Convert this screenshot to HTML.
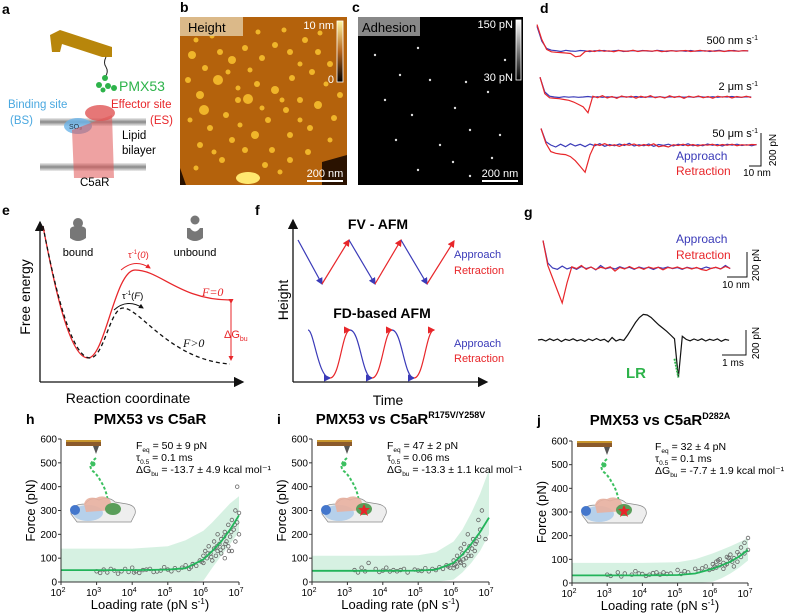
<!DOCTYPE html>
<html><head><meta charset="utf-8"><style>
html,body{margin:0;padding:0;background:#fff}
svg{display:block;font-family:"Liberation Sans",Arial,sans-serif}
</style></head><body>
<svg id="fig" width="786" height="615" viewBox="0 0 786 615" xmlns="http://www.w3.org/2000/svg">
<defs>
<marker id="ab" markerWidth="6" markerHeight="6" refX="5" refY="3" orient="auto"><path d="M0,0 L6,3 L0,6 z" fill="#3a3ab8"/></marker>
<marker id="ar" markerWidth="6" markerHeight="6" refX="5" refY="3" orient="auto"><path d="M0,0 L6,3 L0,6 z" fill="#e8262a"/></marker>
<marker id="ak" markerWidth="8" markerHeight="8" refX="7" refY="4" orient="auto"><path d="M0,0 L8,4 L0,8 z" fill="#111"/></marker>
<marker id="ak2" markerWidth="5" markerHeight="5" refX="4" refY="2.5" orient="auto"><path d="M0,0 L5,2.5 L0,5 z" fill="#111"/></marker>
<marker id="ar2" markerWidth="5" markerHeight="5" refX="4" refY="2.5" orient="auto"><path d="M0,0 L5,2.5 L0,5 z" fill="#e8262a"/></marker>
<linearGradient id="cb1" x1="0" y1="1" x2="0" y2="0"><stop offset="0" stop-color="#000"/><stop offset="0.5" stop-color="#b5651d"/><stop offset="1" stop-color="#fff6a0"/></linearGradient>
<linearGradient id="cb2" x1="0" y1="1" x2="0" y2="0"><stop offset="0" stop-color="#000"/><stop offset="1" stop-color="#fff"/></linearGradient>
<linearGradient id="bil" x1="0" y1="0" x2="0" y2="1"><stop offset="0" stop-color="#eee"/><stop offset="0.5" stop-color="#888"/><stop offset="1" stop-color="#eee"/></linearGradient>
</defs>

<!-- Panel a -->
<g>
<text x="2" y="14" font-size="14" font-weight="bold">a</text>
<polygon points="50,35 60,30 112,47 112,57 102,57 62,44 60,52 52,52" fill="#b8860b"/>
<path d="M106,57 q-3,6 0,10 q3,5 -1,10" stroke="#222" fill="none"/>
<g fill="#2db34a"><circle cx="105" cy="78" r="3"/><circle cx="99" cy="85" r="3"/><circle cx="108" cy="86" r="3"/><circle cx="114" cy="88" r="3"/><circle cx="103" cy="90" r="2.5"/></g>
<text x="119" y="91" font-size="14" fill="#2db34a">PMX53</text>
<text x="8" y="108" font-size="11.5" fill="#4aa8e0">Binding site</text>
<text x="10" y="124" font-size="11.5" fill="#4aa8e0">(BS)</text>
<text x="111" y="108" font-size="11.5" fill="#e8262a">Effector site</text>
<text x="150" y="124" font-size="11.5" fill="#e8262a">(ES)</text>
<rect x="40" y="118" width="106" height="8" fill="url(#bil)"/>
<rect x="40" y="163" width="106" height="8" fill="url(#bil)"/>
<ellipse cx="78" cy="126" rx="14" ry="8" fill="#6cb4e8" opacity="0.8"/>
<text x="69" y="129" font-size="7" fill="#234">SO₃</text>
<path d="M72,130 L112,115 L114,178 L74,178 Z" fill="#e05555" opacity="0.55"/>
<ellipse cx="100" cy="113" rx="15" ry="8" fill="#e05555" opacity="0.8"/>
<text x="122" y="139" font-size="11.5">Lipid</text>
<text x="122" y="154" font-size="11.5">bilayer</text>
<text x="80" y="186" font-size="11.5">C5aR</text>
</g>

<!-- Panel b -->
<g>
<text x="180" y="12" font-size="14" font-weight="bold">b</text>
<rect x="180" y="17" width="167" height="168" fill="#b4620c"/>
<path d="M322,185 L322,162 L347,155 L347,185 Z" fill="#2a1200"/>
<path d="M180,185 L180,168 L186,185 Z" fill="#2a1200"/>
<g id="bdots" fill="#f0b52a"></g>
<ellipse cx="248" cy="178" rx="12" ry="6" fill="#ffe870"/>
<rect x="180" y="17" width="63" height="19" fill="#e2c9a0" opacity="0.85"/>
<text x="188" y="32" font-size="13">Height</text>
<rect x="337" y="21" width="6" height="61" fill="url(#cb1)" stroke="#fff" stroke-width="0.8"/>
<text x="334" y="29" font-size="11" fill="#fff" text-anchor="end">10 nm</text>
<text x="334" y="83" font-size="11" fill="#fff" text-anchor="end">0</text>
<text x="325" y="177" font-size="11" fill="#fff" text-anchor="middle">200 nm</text>
<line x1="307" y1="181" x2="343" y2="181" stroke="#fff" stroke-width="2"/>
</g>

<!-- Panel c -->
<g>
<text x="352" y="12" font-size="14" font-weight="bold">c</text>
<rect x="358" y="17" width="165" height="168" fill="#000"/>
<g id="cdots" fill="#ddd"></g>
<rect x="358" y="17" width="62" height="19" fill="#888"/>
<text x="362" y="32" font-size="13">Adhesion</text>
<rect x="516" y="20" width="5" height="60" fill="url(#cb2)" stroke="#fff" stroke-width="0.8"/>
<text x="513" y="28" font-size="11" fill="#fff" text-anchor="end">150 pN</text>
<text x="513" y="81" font-size="11" fill="#fff" text-anchor="end">30 pN</text>
<text x="500" y="177" font-size="11" fill="#fff" text-anchor="middle">200 nm</text>
<line x1="482" y1="181" x2="518" y2="181" stroke="#fff" stroke-width="2"/>
</g>

<!-- Panel d & g traces -->
<g id="pd">
<text x="540" y="13" font-size="14" font-weight="bold">d</text>
<text x="758" y="44" font-size="11" text-anchor="end">500 nm s<tspan font-size="7" dy="-4">-1</tspan></text>
<text x="758" y="90" font-size="11" text-anchor="end">2 μm s<tspan font-size="7" dy="-4">-1</tspan></text>
<text x="758" y="137" font-size="11" text-anchor="end">50 μm s<tspan font-size="7" dy="-4">-1</tspan></text>
<text x="676" y="160" font-size="12" fill="#3a3ab8">Approach</text>
<text x="676" y="175" font-size="12" fill="#e8262a">Retraction</text>
<path d="M749,166 L761,166 L761,133" stroke="#111" fill="none"/>
<text x="757" y="176" font-size="10" text-anchor="middle">10 nm</text>
<text transform="translate(776,150) rotate(-90)" font-size="10" text-anchor="middle">200 pN</text>
</g>
<g id="pg">
<text x="524" y="217" font-size="14" font-weight="bold">g</text>
<text x="676" y="243" font-size="12" fill="#3a3ab8">Approach</text>
<text x="676" y="259" font-size="12" fill="#e8262a">Retraction</text>
<path d="M727,277 L747,277 L747,252" stroke="#111" fill="none"/>
<text x="736" y="288" font-size="10" text-anchor="middle">10 nm</text>
<text transform="translate(759,265) rotate(-90)" font-size="10" text-anchor="middle">200 pN</text>
<path d="M722,355 L746,355 L746,330" stroke="#111" fill="none"/>
<text x="733" y="366" font-size="10" text-anchor="middle">1 ms</text>
<text transform="translate(759,343) rotate(-90)" font-size="10" text-anchor="middle">200 pN</text>
<text x="626" y="378" font-size="15" font-weight="bold" fill="#2db34a">LR</text>
</g>

<!-- Panel e -->
<g>
<text x="2" y="215" font-size="14" font-weight="bold">e</text>
<line x1="40" y1="382" x2="40" y2="222" stroke="#111" stroke-width="1.3" marker-end="url(#ak)"/>
<line x1="40" y1="382" x2="243" y2="382" stroke="#111" stroke-width="1.3" marker-end="url(#ak)"/>
<text transform="translate(30,297) rotate(-90)" font-size="14" text-anchor="middle">Free energy</text>
<text x="128" y="403" font-size="14" text-anchor="middle">Reaction coordinate</text>
<path d="M43,226 C55,290 70,358 88,358 C105,358 115,270 135,270 C160,270 180,300 230,300" stroke="#e8262a" stroke-width="1.3" fill="none"/>
<path d="M43,226 C55,290 72,358 90,358 C104,358 110,308 123,308 C140,308 170,360 230,364" stroke="#111" stroke-width="1.3" stroke-dasharray="4,3" fill="none"/>
<line x1="231" y1="303" x2="231" y2="360" stroke="#e8262a" marker-end="url(#ar2)" marker-start="url(#ar2)"/>
<text x="224" y="338" font-size="11" fill="#e8262a">ΔG<tspan font-size="7" dy="3">bu</tspan></text>
<text x="202" y="296" font-size="12" fill="#e8262a" font-style="italic" font-family="Liberation Serif">F=0</text>
<text x="183" y="347" font-size="12" fill="#111" font-style="italic" font-family="Liberation Serif">F&gt;0</text>
<path d="M121,270 Q135,258 150,268" stroke="#e8262a" fill="none" marker-end="url(#ar2)"/>
<text x="128" y="258" font-size="9.5" fill="#e8262a">τ<tspan font-size="6" dy="-4">-1</tspan><tspan dy="4">(</tspan><tspan font-style="italic">0</tspan>)</text>
<path d="M114,310 Q127,298 143,308" stroke="#111" fill="none" marker-end="url(#ak2)"/>
<text x="122" y="299" font-size="9.5">τ<tspan font-size="6" dy="-4">-1</tspan><tspan dy="4">(</tspan><tspan font-style="italic">F</tspan>)</text>
<g fill="#777"><circle cx="78" cy="223" r="5"/><path d="M70,230 Q70,226 78,226 Q86,226 86,230 L86,238 Q78,244 70,238 Z"/></g>
<text x="78" y="256" font-size="11" text-anchor="middle">bound</text>
<g fill="#777"><circle cx="195" cy="220" r="4.5"/><path d="M187,228 L190,228 Q195,235 200,228 L203,228 L203,238 Q195,244 187,238 Z"/></g>
<text x="195" y="256" font-size="11" text-anchor="middle">unbound</text>
</g>

<!-- Panel f -->
<g>
<text x="255" y="215" font-size="14" font-weight="bold">f</text>
<line x1="293" y1="382" x2="293" y2="220" stroke="#111" stroke-width="1.3" marker-end="url(#ak)"/>
<line x1="293" y1="382" x2="487" y2="382" stroke="#111" stroke-width="1.3" marker-end="url(#ak)"/>
<text transform="translate(288,300) rotate(-90)" font-size="14" text-anchor="middle">Height</text>
<text x="388" y="405" font-size="14" text-anchor="middle">Time</text>
<text x="378" y="229" font-size="14" font-weight="bold" text-anchor="middle">FV - AFM</text>
<g fill="none" stroke-width="1.2">
<line x1="298" y1="240" x2="322" y2="284" stroke="#3a3ab8" marker-end="url(#ab)"/>
<line x1="322" y1="284" x2="349" y2="240" stroke="#e8262a" marker-end="url(#ar)"/>
<line x1="349" y1="240" x2="375" y2="284" stroke="#3a3ab8" marker-end="url(#ab)"/>
<line x1="375" y1="284" x2="401" y2="240" stroke="#e8262a" marker-end="url(#ar)"/>
<line x1="401" y1="240" x2="427" y2="284" stroke="#3a3ab8" marker-end="url(#ab)"/>
<line x1="427" y1="284" x2="454" y2="241" stroke="#e8262a" marker-end="url(#ar)"/>
</g>
<text x="454" y="258" font-size="11" fill="#3a3ab8">Approach</text>
<text x="454" y="274" font-size="11" fill="#e8262a">Retraction</text>
<text x="382" y="318" font-size="14" font-weight="bold" text-anchor="middle">FD-based AFM</text>
<g fill="none" stroke-width="1.2">
<path d="M308,330 C314,330 318,378 330,378" stroke="#3a3ab8" marker-end="url(#ab)"/>
<path d="M330,378 C340,378 342,330 350,330" stroke="#e8262a" marker-end="url(#ar)"/>
<path d="M350,330 C360,330 362,378 372,378" stroke="#3a3ab8" marker-end="url(#ab)"/>
<path d="M372,378 C382,378 384,330 392,330" stroke="#e8262a" marker-end="url(#ar)"/>
<path d="M392,330 C402,330 404,378 414,378" stroke="#3a3ab8" marker-end="url(#ab)"/>
<path d="M414,378 C424,378 426,330 434,330" stroke="#e8262a" marker-end="url(#ar)"/>
</g>
<text x="454" y="347" font-size="11" fill="#3a3ab8">Approach</text>
<text x="454" y="362" font-size="11" fill="#e8262a">Retraction</text>
</g>

<g id="charts"></g>
</svg>
<script>
// ---------- DFS chart data (log10 loading rate, force pN) ----------
const tickLabelsY = ["0","100","200","300","400","500","600"];
const tickValuesY = [0,100,200,300,400,500,600];
const decades = [2,3,4,5,6,7];
const fitLogR = [2,3,4,5,5.5,6,6.25,6.5,6.75,7];
const fitH = [50,50,50,52,58,95,130,170,220,280];
const bandHiH = [140,140,140,150,175,215,250,290,330,360];
const bandLoH = [0,0,0,0,0,5,60,110,160,210];
const fitI = [47,47,47,48,52,80,115,160,210,270];
const bandHiI = [110,110,110,112,125,170,220,290,370,470];
const bandLoI = [0,0,0,0,0,10,40,80,130,200];
const fitJ = [32,32,32,34,40,60,75,90,112,140];
const bandHiJ = [85,85,85,88,100,125,140,155,172,190];
const bandLoJ = [0,0,0,0,0,5,20,40,65,95];
const ptsLogH = [3.0,3.1,3.2,3.3,3.5,3.6,3.8,3.9,4.0,4.1,4.2,4.3,4.5,4.6,4.8,4.9,5.0,5.1,5.2,5.4,5.5,5.6,5.7,5.8,5.9,6.0,6.0,6.05,6.1,6.15,6.2,6.25,6.3,6.3,6.35,6.4,6.4,6.45,6.5,6.5,6.55,6.6,6.6,6.65,6.7,6.7,6.75,6.8,6.8,6.85,6.9,6.9,6.95,6.95,7.0,7.0,3.4,3.7,4.05,4.4,4.7,5.3,5.65,5.95,6.12,6.22,6.38,6.48,6.58,6.62,6.72,6.78,6.88];
const ptsFH = [45,38,52,40,48,35,55,42,60,45,38,50,55,42,48,62,52,45,58,60,70,55,75,68,90,110,80,130,100,150,120,90,140,170,110,130,200,160,120,180,145,210,100,170,240,150,190,260,130,220,300,170,250,400,290,200,55,45,40,52,44,50,62,85,120,105,150,135,190,160,130,210,240];
const ptsLogI = [3.2,3.3,3.4,3.5,3.6,3.8,3.9,4.0,4.1,4.3,4.4,4.6,4.7,4.9,5.0,5.2,5.3,5.5,5.6,5.7,5.8,5.9,6.0,6.0,6.05,6.1,6.1,6.15,6.2,6.2,6.25,6.3,6.3,6.35,6.4,6.4,6.45,6.5,6.55,6.6,6.65,6.7,6.75,6.8,6.9,4.2,4.5,5.1,5.4,5.85,6.02,6.18,6.28,6.42,6.52,6.62,6.72];
const ptsFI = [50,40,60,45,80,55,42,48,60,50,45,55,40,52,48,58,45,50,62,55,70,60,58,90,75,110,65,95,140,80,120,70,160,100,130,200,150,110,180,130,170,260,220,300,180,44,50,46,55,65,70,85,95,110,140,160,190];
const ptsLogJ = [3.0,3.1,3.3,3.4,3.5,3.7,3.8,4.0,4.1,4.3,4.5,4.6,4.8,5.0,5.1,5.3,5.5,5.6,5.8,5.9,6.0,6.0,6.1,6.1,6.2,6.2,6.3,6.3,6.4,6.4,6.5,6.5,6.6,6.6,6.7,6.7,6.8,6.8,6.9,6.9,7.0,7.0,3.9,4.2,4.4,4.7,5.2,5.7,6.05,6.15,6.35,6.45,6.55,6.75];
const ptsFJ = [35,30,45,28,40,35,50,38,30,42,35,45,40,55,38,45,60,50,70,55,80,60,90,65,75,100,85,60,110,80,95,120,70,105,130,90,150,110,170,125,140,190,40,35,45,38,50,62,70,95,75,105,90,120];
// ---------- Force curve data (pN) ----------
const d1App = [150,60,15,5,2,-3,4,0,-2,3,1,-4,2,0,3,-2,1,4,-3,0,2,-1,3,0,-2,4,1,-3,2,0,1,-2,3,-1,0,2,-3,1,4,-2,0,3,-1,2,0];
const d1Ret = [160,70,10,-5,-8,-10,-12,-15,-35,-30,-4,2,-3,5,-2,1,-4,3,0,-2,4,-3,1,2,-1,3,-4,0,2,-2,1,3,-3,0,4,-1,2,-2,1,-3,3,0,-1,2,1];
const d2App = [120,30,5,0,-3,2,-1,1,-2,0,3,-1,2,-2,1,0,-3,2,1,-1,3,-2,0,1,-1,2,-3,1,0,2,-1,1,-2,3,0,-1,2,-2,1,0,3,-1,-2,1,0];
const d2Ret = [120,20,-5,-8,-10,-15,-20,-30,-45,-60,-95,5,-4,8,-6,3,-8,6,-2,5,-7,4,-3,8,-5,2,-6,7,-3,4,-8,5,-2,6,-4,3,-7,5,-1,4,-6,3,-2,5,-3];
const d3App = [100,20,0,-12,5,-10,8,-6,4,-10,6,-4,8,-8,3,-5,6,-3,10,-6,2,-4,6,-8,3,-2,5,-6,4,-3,7,-5,2,-4,6,-2,3,-6,4,-1,5,-3,2,-5,3];
const d3Ret = [100,10,-40,-50,-55,-58,-70,-95,-130,-165,-60,5,-3,8,-5,2,-8,4,-2,6,-6,3,-4,7,-10,-5,-12,2,-3,5,-4,3,-6,2,-1,4,-5,3,-2,5,-4,2,-1,3,2];
const gApp = [220,40,0,-10,15,-8,6,-10,12,-5,8,-15,20,-6,4,-8,10,-4,6,-10,8,-3,5,-12,6,-2,8,-5,3,-10,6,-4,2,-6,8,-3,5,-8,20,-5];
const gRet = [220,20,-80,-180,-280,-120,10,-5,20,-10,8,-12,6,-4,10,-25,5,-8,12,-6,4,-10,8,-3,6,-14,4,-2,8,-6,3,-8,5,-12,-20,-4,6,-8,12,-3];
const lrForce = [0,5,-8,10,-5,8,-12,6,-4,10,-6,3,-10,8,-5,12,-4,6,-15,20,-8,5,-3,40,90,140,180,205,200,180,150,120,95,70,40,10,-300,30,5,-6,8,-4,10,-8,6,-3,9,-10,5,-2];

const NS = "http://www.w3.org/2000/svg";
function mk(parent, tag, attrs, text) {
  const el = document.createElementNS(NS, tag);
  for (const k in attrs) el.setAttribute(k, attrs[k]);
  if (text !== undefined) el.textContent = text;
  parent.appendChild(el);
  return el;
}
const charts = document.getElementById('charts');

function trace(vals, x0, step, yBase, k, color, name) {
  const pts = vals.map((v, i) => (x0 + i * step).toFixed(1) + ',' + (yBase - v * k).toFixed(1)).join(' ');
  const el = mk(charts, 'polyline', {points: pts, fill: 'none', stroke: color, 'stroke-width': 1.2});
  
  
}
const BLUE = '#3a3ab8', RED = '#e8262a';
trace(d1App, 537, 4.8, 51, 0.165, BLUE, 'd1-approach');
trace(d1Ret, 537, 4.8, 51, 0.165, RED, 'd1-retraction');
trace(d2App, 540, 4.8, 97, 0.165, BLUE, 'd2-approach');
trace(d2Ret, 540, 4.8, 97, 0.165, RED, 'd2-retraction');
trace(d3App, 541, 4.9, 145, 0.165, BLUE, 'd3-approach');
trace(d3Ret, 541, 4.9, 145, 0.165, RED, 'd3-retraction');
trace(gApp, 543, 4.8, 268, 0.125, BLUE, 'g-approach');
trace(gRet, 543, 4.8, 268, 0.125, RED, 'g-retraction');
trace(lrForce, 538, 3.9, 340, 0.125, '#111', 'g-time-trace');
{
  const i = lrForce.indexOf(-300);
  const el = mk(charts, 'line', {x1: 538 + (i - 1) * 3.9, y1: 340 - lrForce[i - 1] * 0.125 + 20, x2: 538 + i * 3.9, y2: 340 + 300 * 0.125, stroke: '#2db34a', 'stroke-width': 2, 'stroke-dasharray': '2,1'});
  
  
}

const bd = document.getElementById('bdots');
[[192,55,4],[205,68,3],[220,52,3],[232,60,4],[245,48,3],[262,58,3],[275,45,3],[290,52,3],[305,40,3],[318,52,3],[200,95,4],[218,80,5],[238,100,3],[257,84,3],[275,90,4],[292,78,3],[312,72,3],[330,64,3],[204,110,5],[226,115,3],[248,99,5],[268,120,3],[286,110,3],[300,100,3],[318,105,4],[210,128,3],[232,140,3],[255,135,4],[272,150,3],[290,135,3],[310,128,3],[334,118,3],[222,160,3],[245,150,3],[265,165,3],[290,160,3],[308,152,3],[200,145,3],[188,80,3],[340,95,3],[196,40,2.5],[212,36,2.5],[258,32,2.5],[284,30,2.5],[320,33,2.5],[228,72,2.5],[250,70,2.5],[300,64,2.5],[326,84,2.5],[190,120,2.5],[240,125,2.5],[262,108,2.5],[330,140,2.5],[214,152,2.5],[280,172,2.5],[300,120,2.5],[196,168,2.5],[238,88,2.5],[282,100,2.5]].forEach(d => {
  const c = mk(bd, 'circle', {cx: d[0], cy: d[1], r: d[2]});
  
  
});
const cd = document.getElementById('cdots');
[[375,55],[418,48],[466,82],[488,92],[455,108],[412,115],[396,140],[440,145],[470,130],[500,135],[418,170],[453,162],[385,100],[505,60],[430,80],[470,176],[400,75],[492,158]].forEach(d => {
  const c = mk(cd, 'circle', {cx: d[0], cy: d[1], r: 1.2});
  
  
});

function dfsPanel(cfg) {
  const g = mk(charts, 'g', {});
  
  
  const X = l => cfg.x0 + (l - 2) * cfg.w / 5;
  const Y = f => cfg.y0 - f * cfg.h / 600;
  let d = fitLogR.map((l, i) => (i ? 'L' : 'M') + X(l).toFixed(1) + ',' + Y(Math.min(cfg.hi[i], 600)).toFixed(1)).join(' ');
  for (let i = fitLogR.length - 1; i >= 0; i--) d += ' L' + X(fitLogR[i]).toFixed(1) + ',' + Y(cfg.lo[i]).toFixed(1);
  const band = mk(g, 'path', {d: d + 'Z', fill: '#cfeedd', opacity: 0.85});
  
  
  cfg.pl.forEach((l, i) => {
    const c = mk(g, 'circle', {cx: X(l).toFixed(1), cy: Y(cfg.pf[i]).toFixed(1), r: 1.8, fill: 'none', stroke: '#666', 'stroke-width': 0.8});
    
    
  });
  const fp = mk(g, 'polyline', {points: fitLogR.map((l, i) => X(l).toFixed(1) + ',' + Y(cfg.fit[i]).toFixed(1)).join(' '), fill: 'none', stroke: '#22b45a', 'stroke-width': 1.8});
  
  
  const ax = mk(g, 'path', {d: `M${cfg.x0},${Y(600)} L${cfg.x0},${cfg.y0} L${X(7)},${cfg.y0}`, fill: 'none', stroke: '#333', 'stroke-width': 1});
  
  
  tickValuesY.forEach((v, i) => {
    const t = mk(g, 'line', {x1: cfg.x0 - 3, x2: cfg.x0, y1: Y(v), y2: Y(v), stroke: '#333'});
    
    
    const tl = mk(g, 'text', {x: cfg.x0 - 4, y: Y(v) + 3.5, 'font-size': 10, 'text-anchor': 'end'}, tickLabelsY[i]);
    
    
  });
  decades.forEach(dd => {
    const t = mk(g, 'line', {x1: X(dd), x2: X(dd), y1: cfg.y0, y2: cfg.y0 + 3, stroke: '#333'});
    
    
    const tl = mk(g, 'text', {x: X(dd) - 3, y: cfg.y0 + 14, 'font-size': 10, 'text-anchor': 'middle'});
    tl.innerHTML = '10<tspan font-size="7" dy="-4">' + dd + '</tspan>';
    
    
  });
  const yt = mk(g, 'text', {transform: `translate(${cfg.x0 - 26},${cfg.y0 - cfg.h / 2}) rotate(-90)`, 'font-size': 13, 'text-anchor': 'middle'}, 'Force (pN)');
  
  
  const xt = mk(g, 'text', {x: cfg.x0 + cfg.w / 2, y: cfg.y0 + 27, 'font-size': 13, 'text-anchor': 'middle'});
  xt.innerHTML = 'Loading rate (pN s<tspan font-size="8" dy="-5">-1</tspan><tspan dy="5">)</tspan>';
  
  
  const pl = mk(g, 'text', {x: cfg.x0 - 35, y: cfg.y0 - 158, 'font-size': 14, 'font-weight': 'bold'}, cfg.label);
  
  
  const ti = mk(g, 'text', {x: cfg.x0 + cfg.w / 2 + cfg.tdx, y: cfg.y0 - 158, 'font-size': 15, 'font-weight': 'bold', 'text-anchor': 'middle'});
  ti.innerHTML = 'PMX53 vs C5aR' + (cfg.sup ? '<tspan font-size="9" dy="-6">' + cfg.sup + '</tspan>' : '');
  
  
  const ann = [['F', 'eq', ' = ' + cfg.feq], ['τ', '0.5', ' = ' + cfg.tau], ['ΔG', 'bu', ' = ' + cfg.dg]];
  ann.forEach((a, i) => {
    const t = mk(g, 'text', {x: cfg.ax, y: cfg.y0 - 133 + i * 12, 'font-size': 10.5});
    t.innerHTML = a[0] + '<tspan font-size="6.5" dy="3">' + a[1] + '</tspan><tspan dy="-3">' + a[2] + '</tspan>';
    
    
  });
  const ix = cfg.x0 + 5, iy = cfg.y0 - 142;
  const ins = mk(g, 'g', {});
  
  
  mk(ins, 'rect', {x: ix, y: iy, width: 35, height: 6, fill: '#8b5a2b'});
  mk(ins, 'rect', {x: ix, y: iy, width: 35, height: 2, fill: '#c8962e'});
  mk(ins, 'polygon', {points: `${ix+27},${iy+6} ${ix+33},${iy+6} ${ix+30},${iy+14}`, fill: '#555'});
  mk(ins, 'path', {d: `M${ix+30},${iy+18} q-10,8 -2,14 q4,4 6,8 q8,12 8,26`, fill: 'none', stroke: '#3cc060', 'stroke-width': 2, 'stroke-dasharray': '3,2'});
  mk(ins, 'circle', {cx: ix + 27, cy: iy + 24, r: 2.5, fill: '#3cc060'});
  mk(ins, 'path', {d: `M${ix+5},${iy+74} q0,-10 14,-10 q6,-8 14,-4 q10,-4 16,2 l12,2 q10,2 8,10 l-4,8 l-54,0 z`, fill: '#eee', stroke: '#888', 'stroke-width': 0.7});
  mk(ins, 'ellipse', {cx: ix + 22, cy: iy + 73, rx: 15, ry: 8, fill: '#a8c8e8', opacity: 0.8});
  mk(ins, 'circle', {cx: ix + 9, cy: iy + 70, r: 5, fill: '#4477cc'});
  mk(ins, 'path', {d: `M${ix+18},${iy+64} q2,-8 12,-6 q8,-4 14,2 l4,10 l-28,2 z`, fill: '#e8b0a0', opacity: 0.9});
  mk(ins, 'ellipse', {cx: ix + 47, cy: iy + 69, rx: 8, ry: 6, fill: '#5a9e5a'});
  if (cfg.star) {
    const s = ix + 47, t = iy + 70;
    mk(ins, 'polygon', {points: `${s},${t-6} ${s+1.8},${t-2} ${s+6},${t-2} ${s+2.5},${t+1} ${s+4},${t+6} ${s},${t+3} ${s-4},${t+6} ${s-2.5},${t+1} ${s-6},${t-2} ${s-1.8},${t-2}`, fill: '#e8262a'});
  }
}
dfsPanel({name: 'panel-h', label: 'h', x0: 61, y0: 582, w: 178, h: 143, fit: fitH, hi: bandHiH, lo: bandLoH, pl: ptsLogH, pf: ptsFH, sup: '', tdx: 0, ax: 136, feq: '50 ± 9 pN', tau: '0.1 ms', dg: '-13.7 ± 4.9 kcal mol⁻¹', star: false});
dfsPanel({name: 'panel-i', label: 'i', x0: 312, y0: 582, w: 177, h: 143, fit: fitI, hi: bandHiI, lo: bandLoI, pl: ptsLogI, pf: ptsFI, sup: 'R175V/Y258V', tdx: 0, ax: 387, feq: '47 ± 2 pN', tau: '0.06 ms', dg: '-13.3 ± 1.1 kcal mol⁻¹', star: true});
dfsPanel({name: 'panel-j', label: 'j', x0: 572, y0: 583, w: 176, h: 142, fit: fitJ, hi: bandHiJ, lo: bandLoJ, pl: ptsLogJ, pf: ptsFJ, sup: 'D282A', tdx: 0, ax: 655, feq: '32 ± 4 pN', tau: '0.1 ms', dg: '-7.7 ± 1.9 kcal mol⁻¹', star: true});
</script>
</body></html>
